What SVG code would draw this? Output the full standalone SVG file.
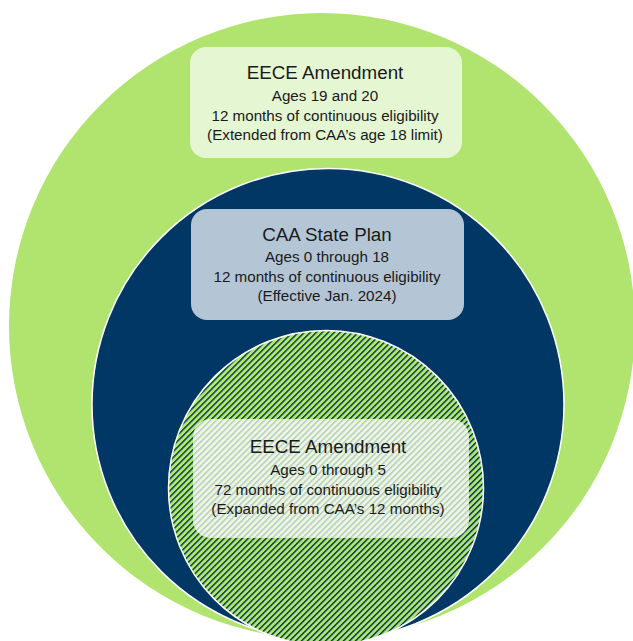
<svg xmlns="http://www.w3.org/2000/svg" width="633" height="641" viewBox="0 0 633 641">
<style>
.t{font-family:"Liberation Sans",Arial,sans-serif;fill:#1a1a1a;text-anchor:middle}
.h{font-size:18.8px}
.b{font-size:15.2px}
</style>
<defs>
<pattern id="hatch" patternUnits="userSpaceOnUse" width="4.24" height="10" patternTransform="rotate(45)">
<rect x="0" y="0" width="4.24" height="10" fill="#b2e86c"/>
<rect x="0" y="0" width="1.5" height="10" fill="#0a3a62"/>
</pattern>
</defs>
<rect width="633" height="641" fill="#ffffff"/>
<g id="outer-circle">
<circle cx="322" cy="326" r="313" fill="#b0e46e"/>
</g>
<g id="navy-circle">
<circle cx="328" cy="404.5" r="236" fill="#003764" stroke="#ffffff" stroke-width="1.5"/>
</g>
<g id="hatched-circle">
<circle cx="326" cy="488" r="157.5" fill="url(#hatch)" stroke="#ffffff" stroke-width="1.5"/>
</g>
<g id="connectors"></g>
<g id="eece-top">
<rect x="190" y="47" width="272" height="111" rx="16" fill="#e5f6d3"/>
<text class="t h" x="325" y="79">EECE Amendment</text>
<text class="t b" x="325" y="101">Ages 19 and 20</text>
<text class="t b" x="325" y="120.5">12 months of continuous eligibility</text>
<text class="t b" x="325" y="140">(Extended from CAA’s age 18 limit)</text>
</g>
<g id="caa-state-plan">
<rect x="191" y="209" width="273" height="111" rx="16" fill="#b4c6d5"/>
<text class="t h" x="327" y="241">CAA State Plan</text>
<text class="t b" x="327" y="262">Ages 0 through 18</text>
<text class="t b" x="327" y="281.5">12 months of continuous eligibility</text>
<text class="t b" x="327" y="301">(Effective Jan. 2024)</text>
</g>
<g id="eece-bottom">
<rect x="193" y="419" width="276" height="119" rx="18" fill="#ffffff" fill-opacity="0.72"/>
<text class="t h" x="328" y="453">EECE Amendment</text>
<text class="t b" x="328" y="475">Ages 0 through 5</text>
<text class="t b" x="328" y="494.5">72 months of continuous eligibility</text>
<text class="t b" x="328" y="514">(Expanded from CAA’s 12 months)</text>
</g>
</svg>
